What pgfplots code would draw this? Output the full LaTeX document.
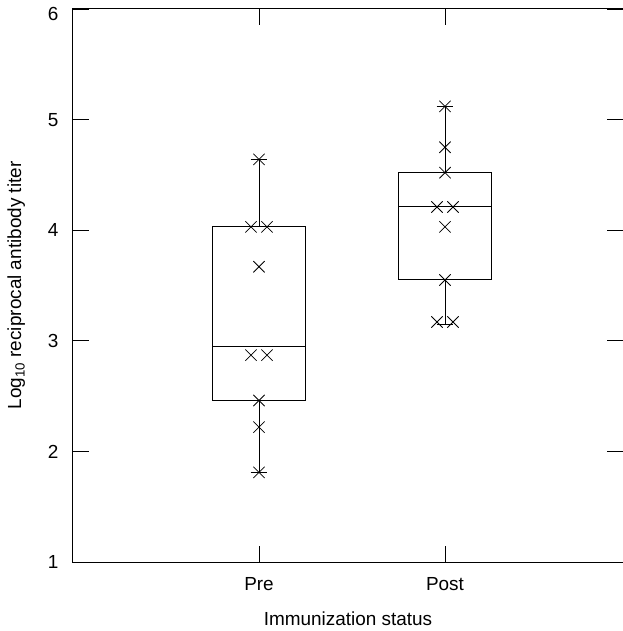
\documentclass[border=0pt]{standalone}
\usepackage{fontspec}
\setmainfont{Liberation Sans}
\usepackage{pgfplots}
\usetikzlibrary{calc}
\pgfplotsset{compat=1.18}
\begin{document}
\fontsize{19}{22}\selectfont
\begin{tikzpicture}
\begin{axis}[
  scale only axis,
  width=550bp, height=553bp,
  xmin=0, xmax=2.957,
  ymin=1, ymax=6,
  xtick={1,2}, xticklabels={Pre,Post},
  ytick={1,2,3,4,5,6},
  yticklabel={\ifdim\tick pt>5.5pt\raisebox{-5bp}[\height][\depth]{6}\else\pgfmathprintnumber{\tick}\fi},
  tick align=inside,
  major tick length=16bp,
  tick style={black, line width=0.8bp},
  axis line style={black, line width=1bp},
  /pgf/number format/assume math mode=true,
  yticklabel style={xshift=-8bp},
  xticklabel style={yshift=-9bp},
  xlabel={Immunization status},
  ylabel={Log\textsubscript{10} reciprocal antibody titer},
  ylabel style={yshift=10bp},
  xlabel style={yshift=-8bp},
  every axis plot/.append style={black, line width=1bp},
]
% Pre box: lower quartile 2.46, median 2.95, upper quartile 4.03, whiskers 1.81 / 4.64
\addplot[mark=none] coordinates {(0.75,2.46)(1.25,2.46)(1.25,4.03)(0.75,4.03)(0.75,2.46)};
\addplot[mark=none] coordinates {(0.75,2.95)(1.25,2.95)};
\addplot[mark=none] coordinates {(1,4.03)(1,4.64)};
\addplot[mark=none] coordinates {(1,2.46)(1,1.81)};
\addplot[mark=none] coordinates {(0.955,4.64)(1.045,4.64)};
\addplot[mark=none] coordinates {(0.955,1.81)(1.045,1.81)};
% Post box: lower quartile 3.55, median 4.21, upper quartile 4.52, whiskers 3.15 / 5.12
\addplot[mark=none] coordinates {(1.75,3.55)(2.25,3.55)(2.25,4.52)(1.75,4.52)(1.75,3.55)};
\addplot[mark=none] coordinates {(1.75,4.21)(2.25,4.21)};
\addplot[mark=none] coordinates {(2,4.52)(2,5.12)};
\addplot[mark=none] coordinates {(2,3.55)(2,3.15)};
\addplot[mark=none] coordinates {(1.955,5.12)(2.045,5.12)};
\addplot[mark=none] coordinates {(1.955,3.15)(2.045,3.15)};
% individual values
\addplot[only marks, mark=x, mark size=8bp, line width=0.8bp]
  coordinates {
  (1,4.64) (0.957,4.03) (1.043,4.03) (1,3.67) (0.957,2.87) (1.043,2.87)
  (1,2.46) (1,2.22) (1,1.81)
  };
\addplot[only marks, mark=x, mark size=8bp, line width=0.8bp]
  coordinates {
  (2,5.12) (2,4.75) (2,4.52) (1.957,4.21) (2.043,4.21) (2,4.03)
  (2,3.55) (1.957,3.17) (2.043,3.17)
  };
\end{axis}
\pgfresetboundingbox
\path ($(current axis.south west)+(-73bp,-69bp)$) rectangle ($(current axis.north east)+(0,9bp)$);
\end{tikzpicture}
\end{document}
